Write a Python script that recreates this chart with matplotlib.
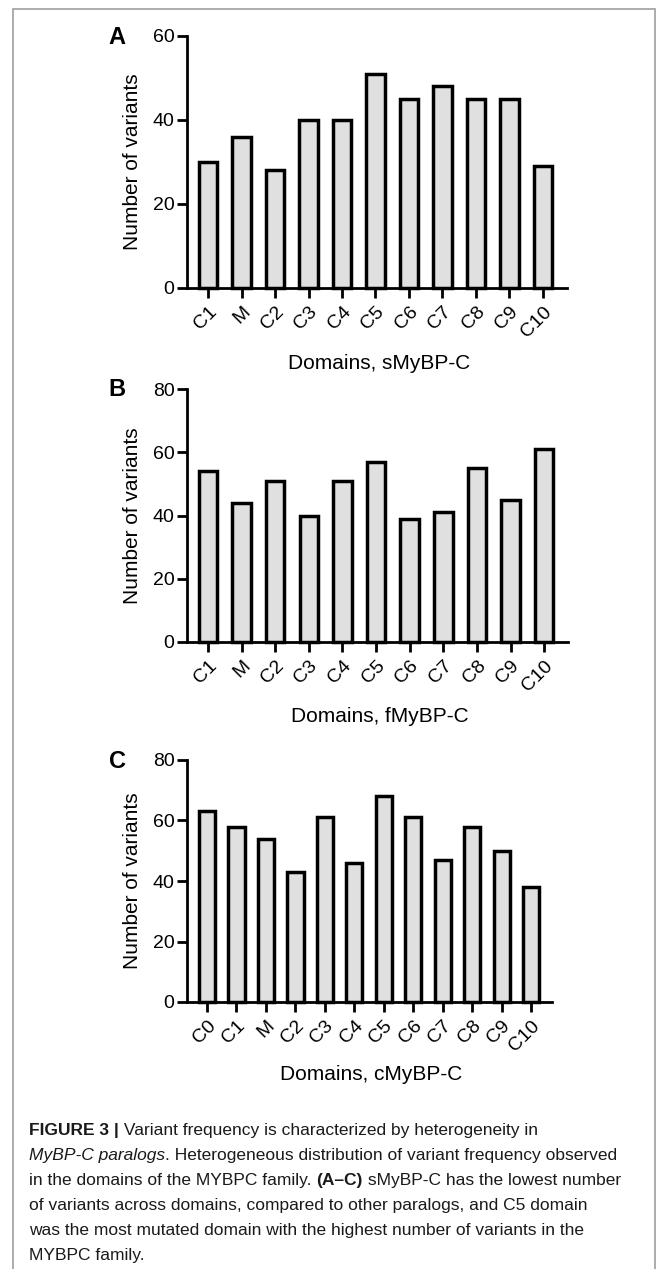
import matplotlib
matplotlib.use("Agg")
import matplotlib.pyplot as plt
from matplotlib.patches import Rectangle

plt.rcParams['font.family'] = ['Liberation Sans', 'DejaVu Sans']

# data
domains_s = ['C1', 'M', 'C2', 'C3', 'C4', 'C5', 'C6', 'C7', 'C8', 'C9', 'C10']
counts_s = [30, 36, 28, 40, 40, 51, 45, 48, 45, 45, 29]
domains_f = ['C1', 'M', 'C2', 'C3', 'C4', 'C5', 'C6', 'C7', 'C8', 'C9', 'C10']
counts_f = [54, 44, 51, 40, 51, 57, 39, 41, 55, 45, 61]
domains_c = ['C0', 'C1', 'M', 'C2', 'C3', 'C4', 'C5', 'C6', 'C7', 'C8', 'C9', 'C10']
counts_c = [63, 58, 54, 43, 61, 46, 68, 61, 47, 58, 50, 38]

W, H = 663, 1269
fig = plt.figure(figsize=(W / 100, H / 100), dpi=100)


def fx(x):
    return x / W


def fy(y):
    return 1 - y / H


# frame around the figure
fig.patches.append(Rectangle((fx(13), fy(1300)), fx(655) - fx(13), fy(9) - fy(1300),
                             transform=fig.transFigure, fill=False,
                             edgecolor='#a6a6a6', linewidth=1.3))

panels = [
    # letter, names, counts, ymax, yticks, box (left, right, top, bottom px), xlim, xlabel, xlabel_y
    ('A', domains_s, counts_s, 60, [0, 20, 40, 60], (187, 567, 36, 288), (-0.63, 10.72),
     'Domains, sMyBP-C', 363),
    ('B', domains_f, counts_f, 80, [0, 20, 40, 60, 80], (187, 568, 389, 642), (-0.625, 10.71),
     'Domains, fMyBP-C', 717),
    ('C', domains_c, counts_c, 80, [0, 20, 40, 60, 80], (187, 552, 760, 1002), (-0.68, 11.71),
     'Domains, cMyBP-C', 1075),
]

for letter, names, counts, ymax, yticks, box, xlim, xlabel, xly in panels:
    l, r, t, b = box
    ax = fig.add_axes([fx(l), fy(b), fx(r) - fx(l), fy(t) - fy(b)])
    x = list(range(len(names)))
    ax.bar(x, counts, width=0.55, color='#e0e0e0', edgecolor='black', linewidth=2.5,
           zorder=2, clip_on=False)
    ax.set_xlim(*xlim)
    ax.set_ylim(0, ymax)
    ax.set_yticks(yticks)
    ax.set_xticks(x)
    ax.set_xticklabels(names, rotation=45, ha='right', rotation_mode='anchor')
    for s in ['top', 'right']:
        ax.spines[s].set_visible(False)
    for s in ['left', 'bottom']:
        ax.spines[s].set_linewidth(2.0)
        ax.spines[s].set_zorder(3)
    ax.tick_params(axis='both', width=2.0, length=7, labelsize=14, color='black')
    ax.tick_params(axis='x', pad=4)
    ax.tick_params(axis='y', pad=2)
    ax.set_ylabel('Number of variants', fontsize=15)
    ax.yaxis.set_label_coords(fx(132), fy((t + b) / 2), transform=fig.transFigure)
    ax.yaxis.label.set_va('center')
    ax.set_xlabel(xlabel, fontsize=15)
    ax.xaxis.set_label_coords(fx((l + r) / 2 + 2), fy(xly), transform=fig.transFigure)
    ax.xaxis.label.set_va('center')
    fig.text(fx(117), fy(t + 1), letter, fontsize=17, fontweight='bold',
             ha='center', va='center')

# caption with mixed styles
caption = [
    [("FIGURE 3 |", 'bold', 'normal'),
     (" Variant frequency is characterized by heterogeneity in", 'normal', 'normal')],
    [("MyBP-C paralogs", 'normal', 'italic'),
     (". Heterogeneous distribution of variant frequency observed", 'normal', 'normal')],
    [("in the domains of the MYBPC family. ", 'normal', 'normal'),
     ("(A\u2013C)", 'bold', 'normal'),
     (" sMyBP-C has the lowest number", 'normal', 'normal')],
    [("of variants across domains, compared to other paralogs, and C5 domain", 'normal', 'normal')],
    [("was the most mutated domain with the highest number of variants in the", 'normal', 'normal')],
    [("MYBPC family.", 'normal', 'normal')],
]

renderer = fig.canvas.get_renderer()
base_y = 1135
for i, runs in enumerate(caption):
    xpos = 29
    for txt, weight, style in runs:
        tt = fig.text(fx(xpos), fy(base_y + 25 * i), txt, fontsize=12.5,
                      fontweight=weight, fontstyle=style, ha='left', va='baseline',
                      color='#1a1a1a')
        ext = tt.get_window_extent(renderer)
        xpos += ext.width

fig.savefig('out.png', dpi=100)
